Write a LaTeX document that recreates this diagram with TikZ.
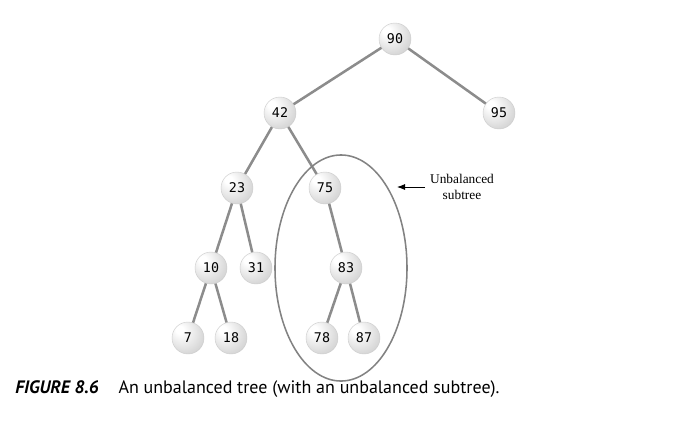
\documentclass[tikz,border=0pt]{standalone}
\usepackage{fontspec}
\setmainfont{Liberation Serif}
\newfontfamily\keyfont{DejaVu Sans Mono}
\newfontfamily\capfont{PT Sans}
\usetikzlibrary{arrows.meta, shapes.geometric}
\definecolor{edgeGray}{RGB}{140,140,140}
\definecolor{ringGray}{RGB}{130,130,130}
\pgfdeclareradialshading{keyball}{\pgfpoint{-15bp}{15bp}}{%
  color(0bp)=(white); color(6bp)=(white); color(22bp)=(gray!20);
  color(38bp)=(gray!42); color(50bp)=(gray!60)}

\begin{document}
\begin{tikzpicture}[
    x=0.025cm, y=-0.025cm, >=Latex,
    key/.style={circle, shading=keyball, draw=gray!40, line width=0.3pt,
                minimum size=0.8cm, inner sep=0pt,
                font=\keyfont\fontsize{9.5}{11}\selectfont},
    link/.style={draw=edgeGray, line width=1.8pt},
    ring/.style={draw=ringGray, line width=1.1pt, ellipse, minimum width=3.3cm,
                minimum height=5.65cm}
]
\useasboundingbox (0,0) rectangle (684,437);

% Tree nodes, one row per level
\node[key] (n90) at (395,39) {90};
\node[key] (n42) at (280,113) {42};
\node[key] (n95) at (499,113) {95};
\node[key] (n23) at (237,188) {23};
\node[key] (n75) at (325,188) {75};
\node[key] (n10) at (211,268) {10};
\node[key] (n31) at (256,268) {31};
\node[key] (n83) at (346,268) {83};
\node[key] (n7)  at (188,338) {7};
\node[key] (n18) at (231,338) {18};
\node[key] (n78) at (322,338) {78};
\node[key] (n87) at (364,338) {87};

% Links between parents and children
\draw[link] (n90) -- (n42);
\draw[link] (n90) -- (n95);
\draw[link] (n42) -- (n23);
\draw[link] (n42) -- (n75);
\draw[link] (n23) -- (n10);
\draw[link] (n23) -- (n31);
\draw[link] (n10) -- (n7);
\draw[link] (n10) -- (n18);
\draw[link] (n75) -- (n83);
\draw[link] (n83) -- (n78);
\draw[link] (n83) -- (n87);

% Ring round the unbalanced subtree, and its label
\node[ring] (sub) at (341,268) {};
\coordinate (subedge) at (397,187);
\node[align=center, font=\fontsize{9.5}{11}\selectfont] (lbl) at (462,187)
    {Unbalanced\\subtree};
\draw[->, line width=0.6pt] (lbl.west) -- (subedge);

% Caption
\node[anchor=base west, inner sep=0pt, font=\capfont\fontsize{12.8}{15}\selectfont]
    (cap) at (15,393)
    {\textbf{\textit{FIGURE 8.6}}\hspace{1.1em}An unbalanced tree (with an unbalanced subtree).};

\end{tikzpicture}
\end{document}
